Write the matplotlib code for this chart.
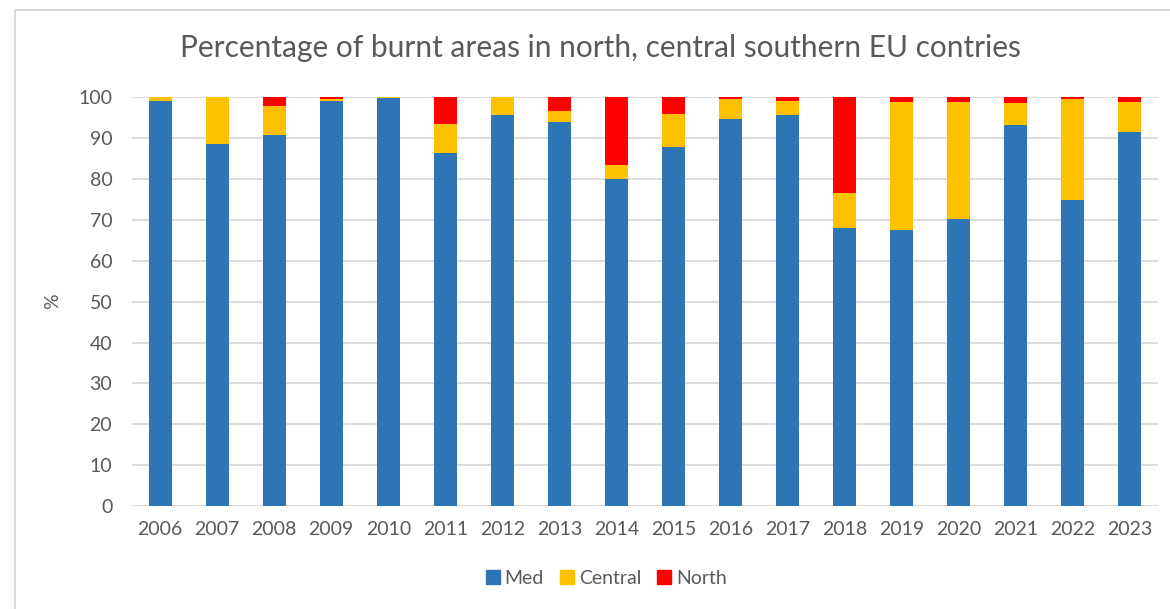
import numpy as np
import matplotlib.pyplot as plt
from matplotlib.lines import Line2D

years = ["2006", "2007", "2008", "2009", "2010", "2011", "2012", "2013", "2014",
         "2015", "2016", "2017", "2018", "2019", "2020", "2021", "2022", "2023"]
med = [99.2, 88.5, 90.7, 99.2, 99.9, 86.4, 95.7, 94.0, 80.0,
       87.8, 94.6, 95.7, 68.1, 67.5, 70.3, 93.2, 74.9, 91.5]
central = [0.8, 11.5, 7.1, 0.5, 0.1, 7.0, 4.3, 2.7, 3.5,
           8.1, 5.1, 3.5, 8.4, 31.4, 28.6, 5.5, 24.8, 7.4]
north = [0.0, 0.0, 2.2, 0.3, 0.0, 6.6, 0.0, 3.3, 16.5,
         4.1, 0.3, 0.8, 23.5, 1.1, 1.1, 1.3, 0.3, 1.1]

c_med = "#2E75B6"
c_central = "#FFC000"
c_north = "#FF0000"
txt = "#595959"

plt.rcParams['font.family'] = ['Lato', 'DejaVu Sans']

fig = plt.figure(figsize=(11.7, 6.09), dpi=100)
ax = fig.add_axes([131.7 / 1170, 1 - 506 / 609, (1158 - 131.7) / 1170, (506 - 97.3) / 609])

x = np.arange(len(years))
w = 0.41
med = np.array(med)
central = np.array(central)
north = np.array(north)
ax.bar(x, med, w, color=c_med, zorder=3)
ax.bar(x, central, w, bottom=med, color=c_central, zorder=3)
ax.bar(x, north, w, bottom=med + central, color=c_north, zorder=3)

ax.set_xlim(-0.5, len(years) - 0.5)
ax.set_ylim(0, 100)
ax.set_yticks(np.arange(0, 101, 10))
ax.set_xticks(x)
ax.set_xticklabels(years)
ax.grid(axis="y", color="#d9d9d9", linewidth=1.3, zorder=0)
for s in ax.spines.values():
    s.set_visible(False)
ax.tick_params(length=0, labelsize=14, colors=txt, pad=11)
ax.tick_params(axis="y", pad=14)
ax.set_ylabel("%", fontsize=14, color=txt, labelpad=12)

fig.text(600 / 1170, 1 - 48 / 609, "Percentage of burnt areas in north, central southern EU contries",
         ha="center", va="center", fontsize=21.5, color=txt)

handles = [Line2D([], [], marker="s", linestyle="none", markersize=10, color=c)
           for c in (c_med, c_central, c_north)]
fig.legend(handles, ["Med", "Central", "North"], loc="center",
           bbox_to_anchor=(605 / 1170, 1 - 578 / 609), ncol=3, frameon=False,
           fontsize=14, labelcolor=txt, handletextpad=0.1, columnspacing=0.7,
           handlelength=1.0)

# chart area border (only top and left visible in the crop)
fig.add_artist(Line2D([15 / 1170, 15 / 1170], [0, 1 - 10 / 609], color="#d9d9d9",
                      linewidth=1.5, transform=fig.transFigure))
fig.add_artist(Line2D([15 / 1170, 1], [1 - 10 / 609, 1 - 10 / 609], color="#d9d9d9",
                      linewidth=1.5, transform=fig.transFigure))

fig.savefig("out.png", dpi=100)
